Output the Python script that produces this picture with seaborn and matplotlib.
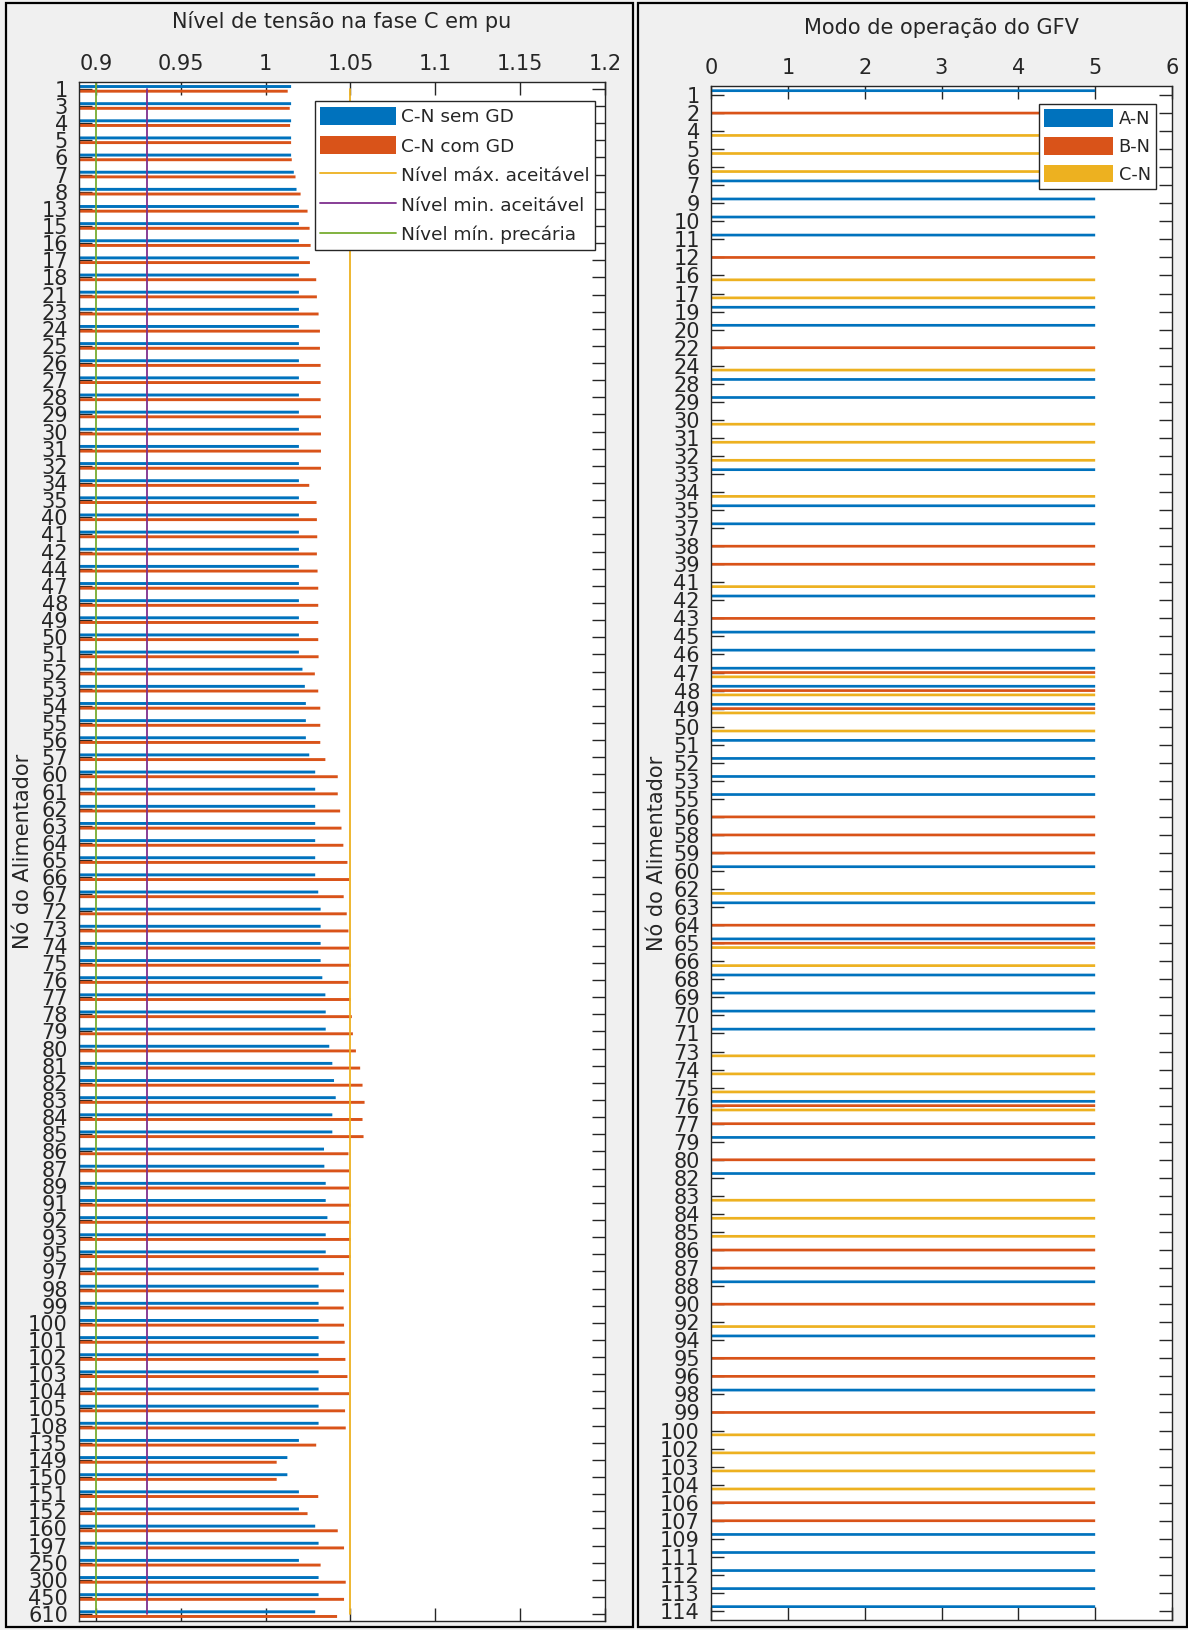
import numpy as np
import pandas as pd
import seaborn as sns
import matplotlib
matplotlib.use("Agg")
import matplotlib.pyplot as plt
from matplotlib.patches import Rectangle, Patch
from matplotlib.lines import Line2D

# ---------------- data: phase C voltage per feeder node ----------------
nodes_v = ["1", "3", "4", "5", "6", "7", "8", "13", "15", "16", "17", "18", "21", "23",
           "24", "25", "26", "27", "28", "29", "30", "31", "32", "34", "35", "40", "41",
           "42", "44", "47", "48", "49", "50", "51", "52", "53", "54", "55", "56", "57",
           "60", "61", "62", "63", "64", "65", "66", "67", "72", "73", "74", "75", "76",
           "77", "78", "79", "80", "81", "82", "83", "84", "85", "86", "87", "89", "91",
           "92", "93", "95", "97", "98", "99", "100", "101", "102", "103", "104", "105",
           "108", "135", "149", "150", "151", "152", "160", "197", "250", "300", "450", "610"]

v_sem_gd = [1.0150, 1.0150, 1.0150, 1.0150, 1.0150, 1.0166, 1.0182, 1.0196, 1.0196, 1.0196,
            1.0196, 1.0196, 1.0196, 1.0196, 1.0196, 1.0196, 1.0196, 1.0196, 1.0196, 1.0196,
            1.0196, 1.0196, 1.0196, 1.0196, 1.0196, 1.0196, 1.0196, 1.0196, 1.0196, 1.0196,
            1.0196, 1.0196, 1.0196, 1.0196, 1.0217, 1.0231, 1.0237, 1.0237, 1.0237, 1.0257,
            1.0292, 1.0292, 1.0292, 1.0292, 1.0292, 1.0292, 1.0292, 1.0310, 1.0324, 1.0324,
            1.0324, 1.0324, 1.0334, 1.0352, 1.0354, 1.0354, 1.0375, 1.0393, 1.0403, 1.0413,
            1.0393, 1.0393, 1.0344, 1.0346, 1.0354, 1.0354, 1.0364, 1.0354, 1.0354, 1.0312,
            1.0312, 1.0312, 1.0312, 1.0312, 1.0312, 1.0312, 1.0312, 1.0312, 1.0312, 1.0196,
            1.0128, 1.0128, 1.0196, 1.0196, 1.0292, 1.0312, 1.0196, 1.0312, 1.0312, 1.0292]

v_com_gd = [1.0130, 1.0142, 1.0144, 1.0150, 1.0154, 1.0176, 1.0206, 1.0247, 1.0259, 1.0265,
            1.0261, 1.0298, 1.0302, 1.0312, 1.0320, 1.0320, 1.0324, 1.0324, 1.0324, 1.0326,
            1.0326, 1.0326, 1.0326, 1.0257, 1.0300, 1.0302, 1.0304, 1.0302, 1.0306, 1.0310,
            1.0310, 1.0310, 1.0310, 1.0312, 1.0290, 1.0310, 1.0322, 1.0322, 1.0322, 1.0352,
            1.0425, 1.0425, 1.0439, 1.0447, 1.0458, 1.0482, 1.0492, 1.0460, 1.0478, 1.0488,
            1.0494, 1.0500, 1.0488, 1.0500, 1.0508, 1.0514, 1.0532, 1.0557, 1.0571, 1.0583,
            1.0571, 1.0577, 1.0488, 1.0492, 1.0494, 1.0500, 1.0500, 1.0500, 1.0500, 1.0462,
            1.0462, 1.0460, 1.0462, 1.0466, 1.0470, 1.0482, 1.0492, 1.0468, 1.0472, 1.0298,
            1.0065, 1.0065, 1.0310, 1.0247, 1.0425, 1.0462, 1.0324, 1.0472, 1.0462, 1.0421]

series_v = ["C-N sem GD", "C-N com GD"]
lim_max_ok = 1.05    # Nível máx. aceitável
lim_min_ok = 0.93    # Nível mín. aceitável
lim_min_prec = 0.90  # Nível mín. precária
v_ticks = [0.9, 0.95, 1.0, 1.05, 1.1, 1.15, 1.2]
v_ticklabels = ["0.9", "0.95", "1", "1.05", "1.1", "1.15", "1.2"]

# ---------------- data: PV inverter operating mode per node ----------------
nodes_m = ["1", "2", "4", "5", "6", "7", "9", "10", "11", "12", "16", "17", "19", "20", "22",
           "24", "28", "29", "30", "31", "32", "33", "34", "35", "37", "38", "39", "41", "42",
           "43", "45", "46", "47", "48", "49", "50", "51", "52", "53", "55", "56", "58", "59",
           "60", "62", "63", "64", "65", "66", "68", "69", "70", "71", "73", "74", "75", "76",
           "77", "79", "80", "82", "83", "84", "85", "86", "87", "88", "90", "92", "94", "95",
           "96", "98", "99", "100", "102", "103", "104", "106", "107", "109", "111", "112",
           "113", "114"]

mode_an = [5, 0, 0, 0, 0, 5, 5, 5, 5, 0, 0, 0, 5, 5, 0, 0, 5, 5, 0, 0, 0, 5, 0, 5, 5, 0, 0,
           0, 5, 0, 5, 5, 5, 5, 5, 0, 5, 5, 5, 5, 0, 0, 0, 5, 0, 5, 0, 5, 0, 5, 5, 5, 5, 0,
           0, 0, 5, 0, 5, 0, 5, 0, 0, 0, 0, 0, 5, 0, 0, 5, 0, 0, 5, 0, 0, 0, 0, 0, 0, 0, 5,
           5, 5, 5, 5]
mode_bn = [0, 5, 0, 0, 0, 0, 0, 0, 0, 5, 0, 0, 0, 0, 5, 0, 0, 0, 0, 0, 0, 0, 0, 0, 0, 5, 5,
           0, 0, 5, 0, 0, 5, 5, 5, 0, 0, 0, 0, 0, 5, 5, 5, 0, 0, 0, 5, 5, 0, 0, 0, 0, 0, 0,
           0, 0, 5, 5, 0, 5, 0, 0, 0, 0, 5, 5, 0, 5, 0, 0, 5, 5, 0, 5, 0, 0, 0, 0, 5, 5, 0,
           0, 0, 0, 0]
mode_cn = [0, 0, 5, 5, 5, 0, 0, 0, 0, 0, 5, 5, 0, 0, 0, 5, 0, 0, 5, 5, 5, 0, 5, 0, 0, 0, 0,
           5, 0, 0, 0, 0, 5, 5, 5, 5, 0, 0, 0, 0, 0, 0, 0, 0, 5, 0, 0, 5, 5, 0, 0, 0, 0, 5,
           5, 5, 5, 0, 0, 0, 0, 5, 5, 5, 0, 0, 0, 0, 5, 0, 0, 0, 0, 0, 5, 5, 5, 5, 0, 0, 0,
           0, 0, 0, 0]
series_m = ["A-N", "B-N", "C-N"]
m_ticks = [0, 1, 2, 3, 4, 5, 6]

# ---------------- style ----------------
C_BLUE, C_ORANGE, C_YELLOW = "#0072BD", "#D95319", "#EDB120"
C_PURPLE, C_GREEN = "#7E2F8E", "#77AC30"
INK = "#262626"
FIG_BG = "#F0F0F0"

sns.set_theme(style="white")
plt.rcParams["font.family"] = ["DejaVu Sans"]
plt.rcParams["text.color"] = INK
plt.rcParams["axes.labelcolor"] = INK

W, H = 1188, 1630
fig = plt.figure(figsize=(W / 100, H / 100), dpi=100, facecolor=FIG_BG)


def px_axes(l, t, r, b):
    return fig.add_axes([l / W, 1 - b / H, (r - l) / W, (b - t) / H])


def thin_bars(ax, new_h):
    for p in ax.patches:
        c = p.get_y() + p.get_height() / 2
        p.set_y(c - new_h / 2)
        p.set_height(new_h)
        p.set_snap(False)
        p.set_antialiased(True)


def matlab_axes(ax):
    ax.set_facecolor("white")
    for s in ax.spines.values():
        s.set_visible(True)
        s.set_color(INK)
        s.set_linewidth(1.0)
    ax.tick_params(axis="both", direction="in", length=9.5, width=1.0, color=INK,
                   labelcolor=INK, top=True, bottom=True, left=True, right=True,
                   labeltop=True, labelbottom=False, labelsize=15)
    ax.tick_params(axis="x", pad=6)
    ax.tick_params(axis="y", pad=8)
    ax.xaxis.set_label_position("top")


# panel frames
fig.add_artist(Rectangle((6 / W, 3 / H), (633 - 6) / W, (1627 - 3) / H, transform=fig.transFigure,
                         facecolor="none", edgecolor="black", lw=1.6))
fig.add_artist(Rectangle((638 / W, 3 / H), (1187 - 638) / W, (1627 - 3) / H, transform=fig.transFigure,
                         facecolor="none", edgecolor="black", lw=1.6))

# ---------------- left panel: voltage levels ----------------
ax1 = px_axes(79, 82, 605, 1621)
df_v = pd.DataFrame({
    "no": nodes_v * 2,
    "serie": [series_v[0]] * len(nodes_v) + [series_v[1]] * len(nodes_v),
    "tensao": v_sem_gd + v_com_gd,
})
sns.barplot(data=df_v, x="tensao", y="no", hue="serie", order=nodes_v, hue_order=series_v,
            palette=[C_BLUE, C_ORANGE], orient="h", width=0.545, dodge=True, errorbar=None,
            saturation=1, linewidth=0, legend=False, ax=ax1)
thin_bars(ax1, 0.17)
n_v = len(nodes_v)
ax1.plot([lim_max_ok] * 2, [0, n_v - 1], color=C_YELLOW, lw=1.3)
ax1.plot([lim_min_ok] * 2, [0, n_v - 1], color=C_PURPLE, lw=1.3)
ax1.plot([lim_min_prec] * 2, [-0.4, n_v - 1], color=C_GREEN, lw=1.3)
ax1.set_xlim(0.89, 1.2)
ax1.set_ylim(n_v - 1 + 0.4, -0.4)
ax1.set_xticks(v_ticks)
ax1.set_xticklabels(v_ticklabels)
matlab_axes(ax1)
ax1.set_xlabel("")
ax1.set_ylabel("Nó do Alimentador", fontsize=15, va="center")
ax1.yaxis.set_label_coords(-(79 - 23) / 526, 0.5)
ax1.set_title("Nível de tensão na fase C em pu", fontsize=15, color=INK,
              y=1 + (82 - 21) / 1539, va="center", pad=0)

h_v = [Patch(facecolor=C_BLUE, edgecolor="none"), Patch(facecolor=C_ORANGE, edgecolor="none"),
       Line2D([], [], color=C_YELLOW, lw=1.3), Line2D([], [], color=C_PURPLE, lw=1.3),
       Line2D([], [], color=C_GREEN, lw=1.3)]
l_v = series_v + ["Nível máx. aceitável", "Nível min. aceitável", "Nível mín. precária"]
leg1 = ax1.legend(h_v, l_v, loc="upper right", bbox_to_anchor=(595 / W, 1 - 101 / H),
                  bbox_transform=fig.transFigure, fontsize=13.3, frameon=True, fancybox=False,
                  framealpha=1, edgecolor=INK, handlelength=4.1, handleheight=1.15,
                  handletextpad=0.25, labelspacing=0.55, borderpad=0.3, borderaxespad=0)
leg1.get_frame().set_linewidth(1.0)

# ---------------- right panel: operating mode ----------------
ax2 = px_axes(711, 86, 1172, 1620)
df_m = pd.DataFrame({
    "no": nodes_m * 3,
    "fase": [series_m[0]] * len(nodes_m) + [series_m[1]] * len(nodes_m) + [series_m[2]] * len(nodes_m),
    "modo": mode_an + mode_bn + mode_cn,
})
sns.barplot(data=df_m, x="modo", y="no", hue="fase", order=nodes_m, hue_order=series_m,
            palette=[C_BLUE, C_ORANGE, C_YELLOW], orient="h", width=0.72, dodge=True,
            errorbar=None, saturation=1, linewidth=0, legend=False, ax=ax2)
thin_bars(ax2, 0.15)
n_m = len(nodes_m)
ax2.set_xlim(0, 6)
ax2.set_ylim(n_m - 1 + 0.5, -0.5)
ax2.set_xticks(m_ticks)
ax2.set_xticklabels([str(t) for t in m_ticks])
matlab_axes(ax2)
ax2.set_xlabel("")
ax2.set_ylabel("Nó do Alimentador", fontsize=15, va="center")
ax2.yaxis.set_label_coords(-(711 - 657) / 461, 0.5)
ax2.set_title("Modo de operação do GFV", fontsize=15, color=INK,
              y=1 + (86 - 28) / 1534, va="center", pad=0)

h_m = [Patch(facecolor=c, edgecolor="none") for c in (C_BLUE, C_ORANGE, C_YELLOW)]
leg2 = ax2.legend(h_m, series_m, loc="upper right", bbox_to_anchor=(1156 / W, 1 - 104 / H),
                  bbox_transform=fig.transFigure, fontsize=12.8, frameon=True, fancybox=False,
                  framealpha=1, edgecolor=INK, handlelength=3.9, handleheight=1.15,
                  handletextpad=0.3, labelspacing=0.5, borderpad=0.3, borderaxespad=0)
leg2.get_frame().set_linewidth(1.0)

fig.savefig("out.png", dpi=100, facecolor=FIG_BG)
